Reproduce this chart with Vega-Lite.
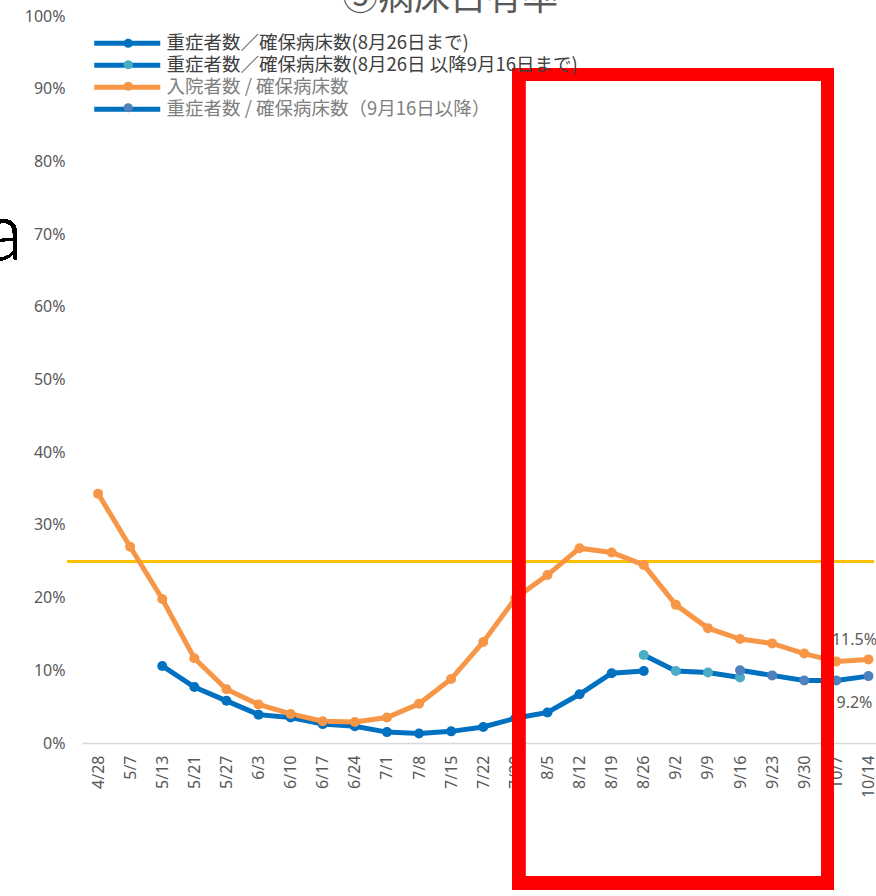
{
  "$schema": "https://vega.github.io/schema/vega-lite/v6.json",
  "autosize": "none",
  "width": 802.5,
  "height": 727,
  "padding": {"left": 82, "top": 16, "right": 0, "bottom": 153},
  "background": "#ffffff",
  "config": {
    "view": {"stroke": null},
    "font": "Noto Sans",
    "text": {"font": "Noto Sans"}
  },
  "title": {
    "text": "⑤病床占有率",
    "font": "Noto Sans CJK JP",
    "fontSize": 36,
    "fontWeight": "normal",
    "color": "#595959",
    "anchor": "middle",
    "frame": "group",
    "dx": -33,
    "offset": -10
  },
  "data": {
    "values": [
      {"d": "5/13", "i": 2, "s": "重症者数／確保病床数(8月26日まで)", "v": 0.106},
      {"d": "5/21", "i": 3, "s": "重症者数／確保病床数(8月26日まで)", "v": 0.077},
      {"d": "5/27", "i": 4, "s": "重症者数／確保病床数(8月26日まで)", "v": 0.058},
      {"d": "6/3", "i": 5, "s": "重症者数／確保病床数(8月26日まで)", "v": 0.039},
      {"d": "6/10", "i": 6, "s": "重症者数／確保病床数(8月26日まで)", "v": 0.035},
      {"d": "6/17", "i": 7, "s": "重症者数／確保病床数(8月26日まで)", "v": 0.026},
      {"d": "6/24", "i": 8, "s": "重症者数／確保病床数(8月26日まで)", "v": 0.023},
      {"d": "7/1", "i": 9, "s": "重症者数／確保病床数(8月26日まで)", "v": 0.015},
      {"d": "7/8", "i": 10, "s": "重症者数／確保病床数(8月26日まで)", "v": 0.013},
      {"d": "7/15", "i": 11, "s": "重症者数／確保病床数(8月26日まで)", "v": 0.016},
      {"d": "7/22", "i": 12, "s": "重症者数／確保病床数(8月26日まで)", "v": 0.022},
      {"d": "7/29", "i": 13, "s": "重症者数／確保病床数(8月26日まで)", "v": 0.034},
      {"d": "8/5", "i": 14, "s": "重症者数／確保病床数(8月26日まで)", "v": 0.042},
      {"d": "8/12", "i": 15, "s": "重症者数／確保病床数(8月26日まで)", "v": 0.067},
      {"d": "8/19", "i": 16, "s": "重症者数／確保病床数(8月26日まで)", "v": 0.096},
      {"d": "8/26", "i": 17, "s": "重症者数／確保病床数(8月26日まで)", "v": 0.099},
      {"d": "8/26", "i": 17, "s": "重症者数／確保病床数(8月26日 以降9月16日まで)", "v": 0.121},
      {"d": "9/2", "i": 18, "s": "重症者数／確保病床数(8月26日 以降9月16日まで)", "v": 0.099},
      {"d": "9/9", "i": 19, "s": "重症者数／確保病床数(8月26日 以降9月16日まで)", "v": 0.097},
      {"d": "9/16", "i": 20, "s": "重症者数／確保病床数(8月26日 以降9月16日まで)", "v": 0.090},
      {"d": "4/28", "i": 0, "s": "入院者数 / 確保病床数", "v": 0.343},
      {"d": "5/7", "i": 1, "s": "入院者数 / 確保病床数", "v": 0.270},
      {"d": "5/13", "i": 2, "s": "入院者数 / 確保病床数", "v": 0.198},
      {"d": "5/21", "i": 3, "s": "入院者数 / 確保病床数", "v": 0.1165},
      {"d": "5/27", "i": 4, "s": "入院者数 / 確保病床数", "v": 0.074},
      {"d": "6/3", "i": 5, "s": "入院者数 / 確保病床数", "v": 0.053},
      {"d": "6/10", "i": 6, "s": "入院者数 / 確保病床数", "v": 0.040},
      {"d": "6/17", "i": 7, "s": "入院者数 / 確保病床数", "v": 0.030},
      {"d": "6/24", "i": 8, "s": "入院者数 / 確保病床数", "v": 0.029},
      {"d": "7/1", "i": 9, "s": "入院者数 / 確保病床数", "v": 0.035},
      {"d": "7/8", "i": 10, "s": "入院者数 / 確保病床数", "v": 0.054},
      {"d": "7/15", "i": 11, "s": "入院者数 / 確保病床数", "v": 0.088},
      {"d": "7/22", "i": 12, "s": "入院者数 / 確保病床数", "v": 0.139},
      {"d": "7/29", "i": 13, "s": "入院者数 / 確保病床数", "v": 0.199},
      {"d": "8/5", "i": 14, "s": "入院者数 / 確保病床数", "v": 0.231},
      {"d": "8/12", "i": 15, "s": "入院者数 / 確保病床数", "v": 0.268},
      {"d": "8/19", "i": 16, "s": "入院者数 / 確保病床数", "v": 0.262},
      {"d": "8/26", "i": 17, "s": "入院者数 / 確保病床数", "v": 0.245},
      {"d": "9/2", "i": 18, "s": "入院者数 / 確保病床数", "v": 0.190},
      {"d": "9/9", "i": 19, "s": "入院者数 / 確保病床数", "v": 0.158},
      {"d": "9/16", "i": 20, "s": "入院者数 / 確保病床数", "v": 0.143},
      {"d": "9/23", "i": 21, "s": "入院者数 / 確保病床数", "v": 0.137},
      {"d": "9/30", "i": 22, "s": "入院者数 / 確保病床数", "v": 0.123},
      {"d": "10/7", "i": 23, "s": "入院者数 / 確保病床数", "v": 0.112},
      {"d": "10/14", "i": 24, "s": "入院者数 / 確保病床数", "v": 0.115},
      {"d": "9/16", "i": 20, "s": "重症者数 / 確保病床数（9月16日以降）", "v": 0.100},
      {"d": "9/23", "i": 21, "s": "重症者数 / 確保病床数（9月16日以降）", "v": 0.093},
      {"d": "9/30", "i": 22, "s": "重症者数 / 確保病床数（9月16日以降）", "v": 0.086},
      {"d": "10/7", "i": 23, "s": "重症者数 / 確保病床数（9月16日以降）", "v": 0.086},
      {"d": "10/14", "i": 24, "s": "重症者数 / 確保病床数（9月16日以降）", "v": 0.092}
    ]
  },
  "encoding": {
    "x": {
      "field": "i",
      "type": "quantitative",
      "scale": {"domain": [-0.5, 24.5], "nice": false, "zero": false},
      "axis": {
        "title": null,
        "values": [0, 1, 2, 3, 4, 5, 6, 7, 8, 9, 10, 11, 12, 13, 14, 15, 16, 17, 18, 19, 20, 21, 22, 23, 24],
        "labelExpr": "['4/28','5/7','5/13','5/21','5/27','6/3','6/10','6/17','6/24','7/1','7/8','7/15','7/22','7/29','8/5','8/12','8/19','8/26','9/2','9/9','9/16','9/23','9/30','10/7','10/14'][datum.value]",
        "labelAngle": -90,
        "labelPadding": 12,
        "labelFontSize": 16,
        "labelColor": "#595959",
        "labelOverlap": false,
        "ticks": false,
        "grid": false,
        "domainColor": "#D9D9D9",
        "domainWidth": 1.5
      }
    },
    "y": {
      "field": "v",
      "type": "quantitative",
      "scale": {"domain": [0, 1], "nice": false},
      "axis": {
        "title": null,
        "values": [0, 0.1, 0.2, 0.3, 0.4, 0.5, 0.6, 0.7, 0.8, 0.9, 1],
        "format": ".0%",
        "labelPadding": 17,
        "labelFontSize": 16,
        "labelColor": "#595959",
        "ticks": false,
        "grid": false,
        "domain": false
      }
    }
  },
  "layer": [
    {
      "mark": {"type": "rule", "color": "#FFC000", "strokeWidth": 2},
      "encoding": {
        "x": {"datum": -0.95, "type": "quantitative"},
        "x2": {"datum": 24.15},
        "y": {"datum": 0.25, "type": "quantitative"}
      }
    },
    {
      "mark": {"type": "line", "strokeWidth": 5},
      "encoding": {
        "color": {
          "field": "s",
          "type": "nominal",
          "scale": {
            "domain": ["重症者数／確保病床数(8月26日まで)", "重症者数／確保病床数(8月26日 以降9月16日まで)", "入院者数 / 確保病床数", "重症者数 / 確保病床数（9月16日以降）"],
            "range": ["#0070C0", "#0070C0", "#F79646", "#0070C0"]
          },
          "legend": {
            "title": null,
            "orient": "none",
            "legendX": 36,
            "legendY": 18,
            "padding": 0,
            "symbolType": "M-6,0H6",
            "symbolSize": 121,
            "symbolStrokeWidth": 5,
            "labelFont": "Noto Sans CJK JP",
            "labelFontSize": 18.5,
            "labelColor": {"expr": "datum.index < 2 ? '#404040' : '#808080'"},
            "labelOffset": 30,
            "labelLimit": 600,
            "rowPadding": 1
          }
        }
      }
    },
    {
      "mark": {"type": "point", "filled": true, "size": 100, "opacity": 1},
      "encoding": {
        "fill": {
          "field": "s",
          "type": "nominal",
          "sort": ["重症者数／確保病床数(8月26日まで)", "重症者数／確保病床数(8月26日 以降9月16日まで)", "入院者数 / 確保病床数", "重症者数 / 確保病床数（9月16日以降）"],
          "scale": {"range": ["#0070C0", "#4BACC6", "#F79646", "#4F81BD"]},
          "legend": {
            "title": null,
            "orient": "none",
            "legendX": 37,
            "legendY": 18,
            "padding": 0,
            "symbolType": "circle",
            "symbolSize": 85,
            "labelFont": "Noto Sans CJK JP",
            "labelFontSize": 18.5,
            "labelOpacity": 0,
            "labelOffset": 30,
            "labelLimit": 600,
            "rowPadding": 2.5
          }
        }
      }
    },
    {
      "transform": [{"filter": "datum.i == 24 && datum.s == '入院者数 / 確保病床数'"}],
      "mark": {"type": "text", "dx": -14, "dy": -19, "fontSize": 16, "color": "#595959", "align": "center", "baseline": "middle"},
      "encoding": {"text": {"field": "v", "type": "quantitative", "format": ".1%"}}
    },
    {
      "transform": [{"filter": "datum.i == 24 && datum.s == '重症者数 / 確保病床数（9月16日以降）'"}],
      "mark": {"type": "text", "dx": -14, "dy": 27, "fontSize": 16, "color": "#595959", "align": "center", "baseline": "middle"},
      "encoding": {"text": {"field": "v", "type": "quantitative", "format": ".1%"}}
    },
    {
      "mark": {"type": "text", "text": "a", "font": "Lato", "fontWeight": 300, "fontSize": 80, "color": "#000000", "align": "right", "baseline": "alphabetic"},
      "encoding": {
        "x": {"datum": -2.34, "type": "quantitative"},
        "y": {"datum": 0.664, "type": "quantitative"}
      }
    },
    {
      "mark": {"type": "rect", "filled": false, "stroke": "#FF0000", "strokeWidth": 12.3, "strokeJoin": "miter"},
      "encoding": {
        "x": {"datum": 13.11, "type": "quantitative"},
        "x2": {"datum": 22.73},
        "y": {"datum": 0.9195, "type": "quantitative"},
        "y2": {"datum": -0.1926}
      }
    }
  ],
  "resolve": {"scale": {"color": "independent", "fill": "independent"}}
}
